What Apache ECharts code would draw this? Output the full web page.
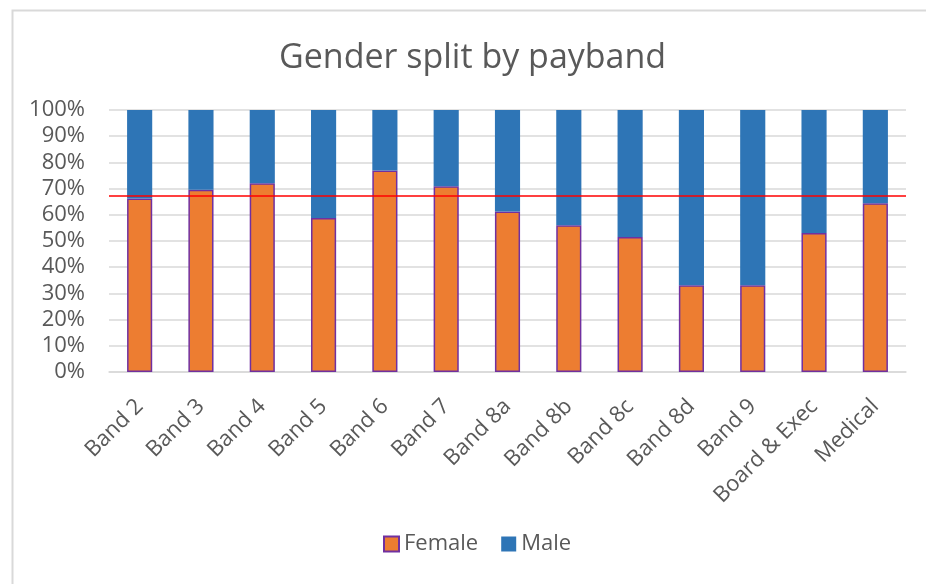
<!DOCTYPE html>
<html>
<head>
<meta charset="utf-8">
<script src="https://cdn.jsdelivr.net/npm/echarts@6/dist/echarts.min.js"></script>
<style>
  html, body { margin: 0; padding: 0; background: #fff; }
  #chart { width: 926px; height: 584px; }
</style>
</head>
<body>
<div id="chart"></div>
<script>
// categories + values (percent)
var bands = ['Band 2', 'Band 3', 'Band 4', 'Band 5', 'Band 6', 'Band 7', 'Band 8a', 'Band 8b', 'Band 8c', 'Band 8d', 'Band 9', 'Board & Exec', 'Medical']
var female = [66.2, 69.6, 72.0, 58.8, 76.9, 70.9, 61.3, 56.0, 51.5, 33.1, 33.1, 53.1, 64.4]
var male = [33.8, 30.4, 28.0, 41.2, 23.1, 29.1, 38.7, 44.0, 48.5, 66.9, 66.9, 46.9, 35.6]
var overallFemale = 67.2   // red reference line

var textColor = '#595959'
var font = 'Open Sans'

var chart = echarts.init(document.getElementById('chart'))
chart.setOption({
    animation: false,
    textStyle: { fontFamily: font },
    graphic: [{
        type: 'rect',
        left: 10, top: 8,
        shape: { width: 1000, height: 1000 },
        style: { fill: 'none', stroke: '#d9d9d9', lineWidth: 2 },
        silent: true
    }],
    title: {
        text: 'Gender split by payband',
        left: 274,
        top: 36,
        textStyle: { fontFamily: font, fontSize: 34, fontWeight: 'normal', color: textColor }
    },
    grid: { left: 109, right: 20, top: 110, bottom: 212 },
    legend: {
        bottom: 24,
        left: 378,
        icon: 'rect',
        itemWidth: 15,
        itemHeight: 15,
        itemGap: 23,
        textStyle: { fontFamily: font, fontSize: 22, color: textColor },
        data: ['Female', 'Male']
    },
    xAxis: {
        type: 'category',
        data: bands,
        axisTick: { show: false },
        axisLine: { lineStyle: { color: '#d9d9d9', width: 1.5 } },
        axisLabel: { rotate: 45, margin: 31, fontSize: 22, color: textColor, interval: 0 }
    },
    yAxis: {
        type: 'value',
        min: 0,
        max: 100,
        interval: 10,
        axisLine: { show: false },
        axisTick: { show: false },
        splitLine: { lineStyle: { color: '#d9d9d9', width: 1.5 } },
        axisLabel: { formatter: '{value}%', fontSize: 22, color: textColor, margin: 24 }
    },
    series: [{
        name: 'Female',
        type: 'bar',
        stack: 'g',
        barWidth: '41%',
        data: female,
        itemStyle: { color: '#ED7D31', borderColor: '#7030A0', borderWidth: 1.5 },
        markLine: {
            silent: true,
            symbol: 'none',
            label: { show: false },
            lineStyle: { color: '#ff0000', width: 1.5, type: 'solid' },
            data: [{ yAxis: overallFemale }]
        }
    }, {
        name: 'Male',
        type: 'bar',
        stack: 'g',
        data: male,
        itemStyle: { color: '#2E75B6' }
    }]
})
</script>
</body>
</html>
